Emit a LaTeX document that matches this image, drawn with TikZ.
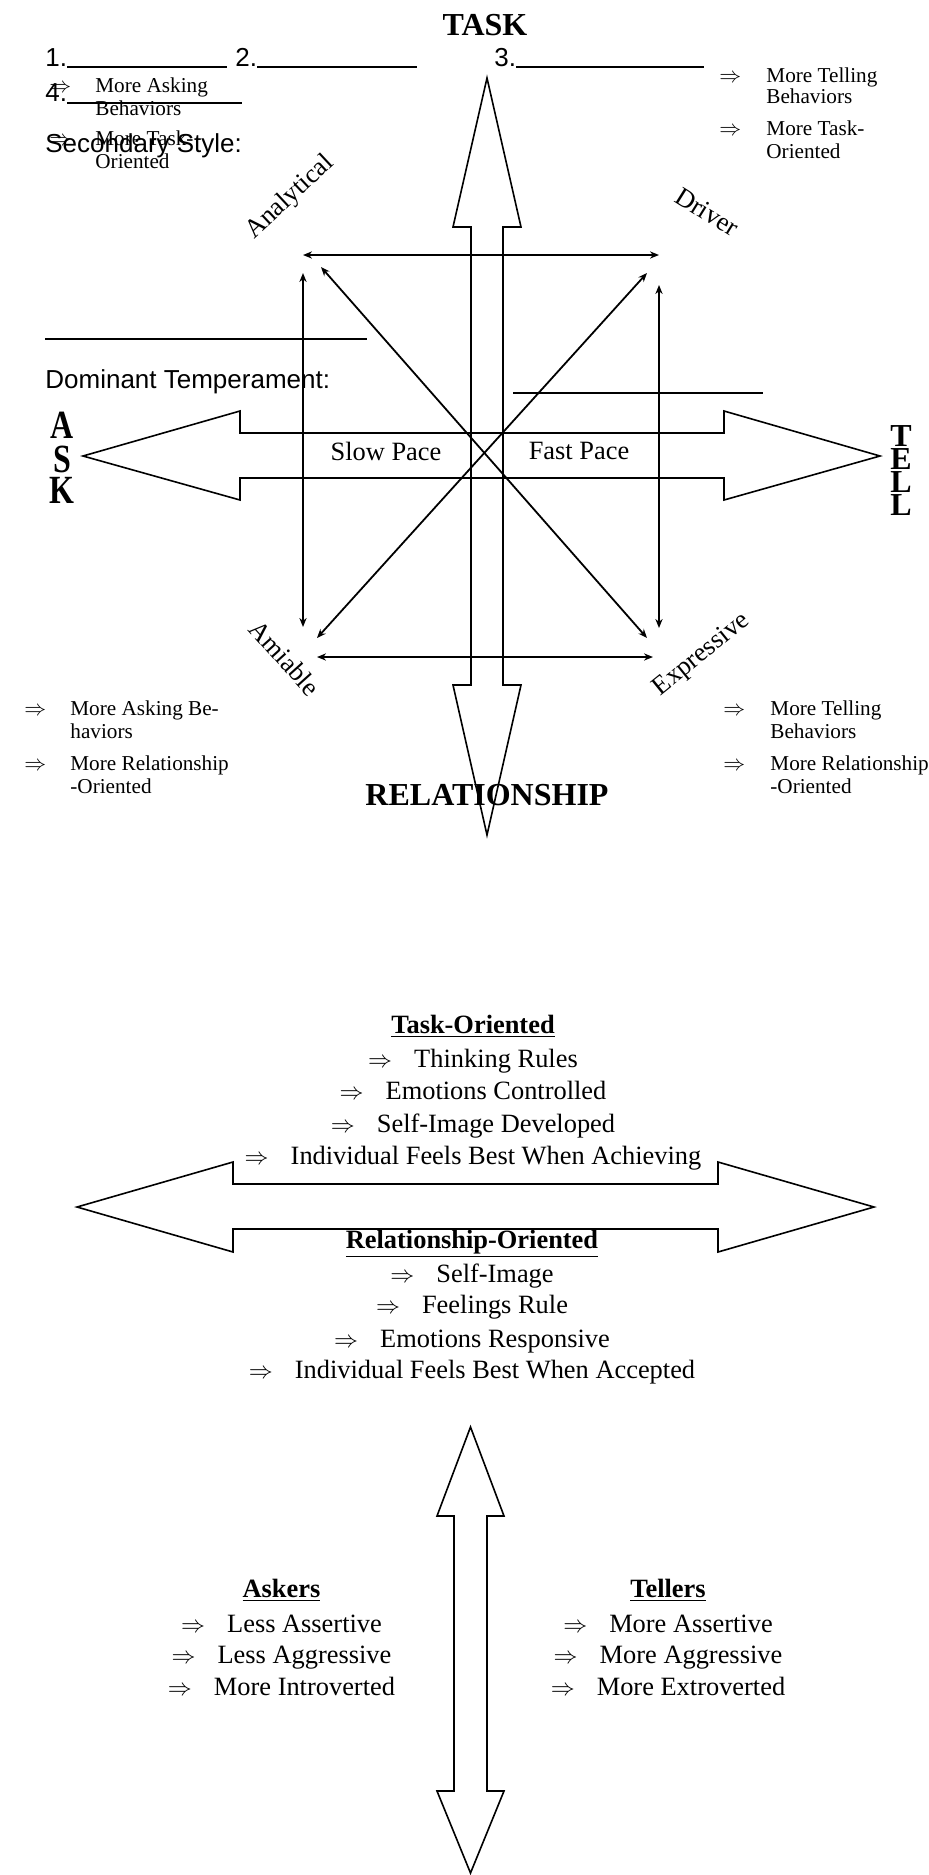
\documentclass[tikz,border=0pt]{standalone}
\usepackage{fontspec}
\usepackage{graphicx}
\setmainfont{Liberation Serif}
\newfontfamily\arialf{Liberation Sans}
\usetikzlibrary{arrows.meta}
\begin{document}
\begin{tikzpicture}[x=0.5pt,y=-0.5pt,
  sm/.style={font=\fontsize{10.6}{12}\selectfont, inner sep=0pt, anchor=base west},
  md/.style={font=\fontsize{13.2}{15}\selectfont, inner sep=0pt},
  bg/.style={font=\bfseries\fontsize{16}{18}\selectfont, inner sep=0pt, anchor=base},
  sf/.style={font=\arialf\fontsize{13}{15}\selectfont, inner sep=0pt, anchor=base west},
  hd/.style={font=\bfseries\fontsize{13.2}{15}\selectfont, inner sep=0pt, anchor=base},
  ln/.style={font=\fontsize{13.2}{15}\selectfont, inner sep=0pt, anchor=base},
  blank/.style={line width=0.7pt},
  dbl/.style={line width=0.9pt, {Stealth[length=4.5pt,width=3.6pt]}-{Stealth[length=4.5pt,width=3.6pt]}},
  hollow/.style={line width=0.8pt, line join=miter}]
\useasboundingbox (0,0) rectangle (928,1875);

% ---------- header ----------
\node[bg] (task) at (485,35) {TASK};
\node[sf] (n1) at (45,66) {1.};
\node[sf] (n2) at (235,66) {2.};
\node[sf] (n3) at (494,66) {3.};
\node[sf] (n4) at (45,101) {4.};
\draw[blank] (67,67) -- (227,67);
\draw[blank] (257,67) -- (417,67);
\draw[blank] (516,67) -- (704,67);
\draw[blank] (67,103) -- (242,103);
\node[sf] (sec) at (45,152) {Secondary Style:};

% left top items (overlapping)
\node[sm] (la1) at (49,92) {$\Rightarrow$};
\node[sm] (la1a) at (95,92) {More Asking};
\node[sm] (la1b) at (95,115) {Behaviors};
\node[sm] (la2) at (49,145) {$\Rightarrow$};
\node[sm] (la2a) at (95,145) {More Task-};
\node[sm] (la2b) at (95,168) {Oriented};

% right top items
\node[sm] (ra1) at (719,82) {$\Rightarrow$};
\node[sm] (ra1a) at (766,82) {More Telling};
\node[sm] (ra1b) at (766,103) {Behaviors};
\node[sm] (ra2) at (719,135) {$\Rightarrow$};
\node[sm] (ra2a) at (766,135) {More Task-};
\node[sm] (ra2b) at (766,158) {Oriented};

% ---------- first diagram ----------
\draw[hollow] (487,78) -- (521,227) -- (503,227) -- (503,685) -- (521,685) -- (487,835)
  -- (453,685) -- (471,685) -- (471,227) -- (453,227) -- cycle;
\draw[hollow] (83,456) -- (240,411) -- (240,433) -- (724,433) -- (724,411) -- (880,456)
  -- (724,500) -- (724,478) -- (240,478) -- (240,500) -- cycle;

\coordinate (topL) at (303,255); \coordinate (topR) at (659,255);
\coordinate (botL) at (317,657); \coordinate (botR) at (653,657);
\coordinate (lvT) at (303,273);  \coordinate (lvB) at (303,627);
\coordinate (rvT) at (659,285);  \coordinate (rvB) at (659,628);
\coordinate (d1T) at (321,267);  \coordinate (d1B) at (647,638);
\coordinate (d2T) at (647,273);  \coordinate (d2B) at (317,638);
\draw[dbl] (topL) -- (topR);
\draw[dbl] (botL) -- (botR);
\draw[dbl] (lvT) -- (lvB);
\draw[dbl] (rvT) -- (rvB);
\draw[dbl] (d1T) -- (d1B);
\draw[dbl] (d2T) -- (d2B);

\node[md, rotate=43] (ana) at (290,197) {Analytical};
\node[md, rotate=-32] (drv) at (707,212) {Driver};
\node[md, rotate=-48] (ami) at (285,658) {Amiable};
\node[md, rotate=39] (exps) at (702,655) {Expressive};

\draw[blank] (45,339) -- (367,339);
\node[sf] (dom) at (45,388) {Dominant Temperament:};
\draw[blank] (513,393) -- (763,393);

\node[md] (slow) at (386,451) {Slow Pace};
\node[md] (fast) at (579,451) {Fast Pace};

\node[bg] (askA) at (62,438) {\scalebox{1}[1.25]{A}};
\node[bg] (askS) at (62,472) {\scalebox{1}[1.25]{S}};
\node[bg] (askK) at (62,503) {\scalebox{1}[1.25]{K}};
\node[bg] (tellT) at (901,446) {T};
\node[bg] (tellE) at (901,469) {E};
\node[bg] (tellL) at (901,492) {L};
\node[bg] (tellM) at (901,515) {L};

\node[bg] (rel) at (487,805) {RELATIONSHIP};

% bottom-left items
\node[sm] (lb1) at (24,715) {$\Rightarrow$};
\node[sm] (lb1a) at (70,715) {More Asking Be-};
\node[sm] (lb1b) at (70,738) {haviors};
\node[sm] (lb2) at (24,770) {$\Rightarrow$};
\node[sm] (lb2a) at (70,770) {More Relationship};
\node[sm] (lb2b) at (70,793) {-Oriented};
% bottom-right items
\node[sm] (rb1) at (723,715) {$\Rightarrow$};
\node[sm] (rb1a) at (770,715) {More Telling};
\node[sm] (rb1b) at (770,738) {Behaviors};
\node[sm] (rb2) at (723,770) {$\Rightarrow$};
\node[sm] (rb2a) at (770,770) {More Relationship};
\node[sm] (rb2b) at (770,793) {-Oriented};

% ---------- second diagram ----------
\node[hd] (tor) at (473,1033) {\underline{Task-Oriented}};
\node[ln] (t1) at (473,1067) {$\Rightarrow$\hspace{11pt}Thinking Rules};
\node[ln] (t2) at (473,1099) {$\Rightarrow$\hspace{11pt}Emotions Controlled};
\node[ln] (t3) at (473,1132) {$\Rightarrow$\hspace{11pt}Self-Image Developed};
\node[ln] (t4) at (473,1164) {$\Rightarrow$\hspace{11pt}Individual Feels Best When Achieving};

\draw[hollow] (77,1207) -- (233,1162) -- (233,1184) -- (718,1184) -- (718,1162) -- (874,1207)
  -- (718,1252) -- (718,1229) -- (233,1229) -- (233,1252) -- cycle;

\node[hd] (ror) at (472,1248) {\underline{Relationship-Oriented}};
\node[ln] (r1) at (472,1282) {$\Rightarrow$\hspace{11pt}Self-Image};
\node[ln] (r2) at (472,1313) {$\Rightarrow$\hspace{11pt}Feelings Rule};
\node[ln] (r3) at (472,1347) {$\Rightarrow$\hspace{11pt}Emotions Responsive};
\node[ln] (r4) at (472,1378) {$\Rightarrow$\hspace{11pt}Individual Feels Best When Accepted};

% ---------- third diagram ----------
\draw[hollow] (470.5,1427) -- (504,1516) -- (487,1516) -- (487,1791) -- (504,1791) -- (470.5,1873)
  -- (437,1791) -- (454,1791) -- (454,1516) -- (437,1516) -- cycle;

\node[hd] (askers) at (281.5,1597) {\underline{Askers}};
\node[ln] (a1) at (281.5,1632) {$\Rightarrow$\hspace{11pt}Less Assertive};
\node[ln] (a2) at (281.5,1663) {$\Rightarrow$\hspace{11pt}Less Aggressive};
\node[ln] (a3) at (281.5,1695) {$\Rightarrow$\hspace{11pt}More Introverted};
\node[hd] (tellers) at (668,1597) {\underline{Tellers}};
\node[ln] (e1) at (668,1632) {$\Rightarrow$\hspace{11pt}More Assertive};
\node[ln] (e2) at (668,1663) {$\Rightarrow$\hspace{11pt}More Aggressive};
\node[ln] (e3) at (668,1695) {$\Rightarrow$\hspace{11pt}More Extroverted};
\end{tikzpicture}
\end{document}
